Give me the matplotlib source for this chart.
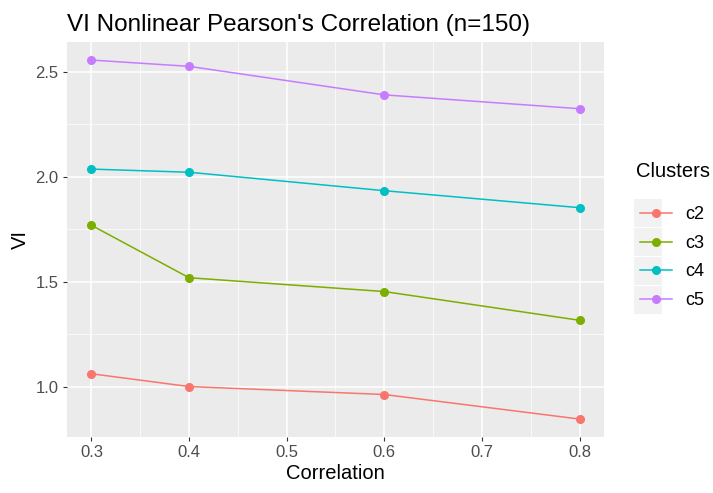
import numpy as np
import matplotlib
matplotlib.use("Agg")
import matplotlib.pyplot as plt
from matplotlib.ticker import MultipleLocator
from matplotlib.patches import Rectangle

plt.rcParams['font.family'] = ['Liberation Sans', 'DejaVu Sans']

correlation = [0.3, 0.4, 0.6, 0.8]
clusters = ['c2', 'c3', 'c4', 'c5']
vi_c2 = [1.061, 1.000, 0.962, 0.845]
vi_c3 = [1.769, 1.519, 1.453, 1.316]
vi_c4 = [2.037, 2.022, 1.934, 1.853]
vi_c5 = [2.557, 2.527, 2.391, 2.325]
colors = ['#F8766D', '#7CAE00', '#00BFC4', '#C77CFF']

W, H = 713, 493
fig = plt.figure(figsize=(W / 100, H / 100), dpi=100)
ax = fig.add_axes([0.094, 0.1136, 0.753, 0.801])
ax.set_facecolor('#EBEBEB')

for name, vals, col in zip(clusters, [vi_c2, vi_c3, vi_c4, vi_c5], colors):
    ax.plot(correlation, vals, color=col, lw=1.1, marker='o', ms=5.5, label=name)

ax.set_xlim(0.275, 0.825)
allv = vi_c2 + vi_c3 + vi_c4 + vi_c5
ymin, ymax = min(allv), max(allv)
pad = (ymax - ymin) * 0.05
ax.set_ylim(ymin - pad, ymax + pad)

ax.xaxis.set_minor_locator(MultipleLocator(0.05))
ax.yaxis.set_minor_locator(MultipleLocator(0.25))
ax.set_xticks([0.3, 0.4, 0.5, 0.6, 0.7, 0.8])
ax.set_xticklabels(['0.3', '0.4', '0.5', '0.6', '0.7', '0.8'])
ax.set_yticks([1.0, 1.5, 2.0, 2.5])
ax.set_yticklabels(['1.0', '1.5', '2.0', '2.5'])
ax.grid(which='major', color='white', lw=1.1)
ax.grid(which='minor', color='white', lw=0.5)
ax.set_axisbelow(True)
for s in ax.spines.values():
    s.set_visible(False)
ax.tick_params(which='major', length=3, color='#333333', labelsize=12, labelcolor='#4D4D4D', pad=3)
ax.tick_params(which='minor', length=0)

ax.set_xlabel('Correlation', fontsize=14.5, labelpad=3)
ax.set_ylabel('VI', fontsize=14.5, labelpad=4)
ax.set_title("VI Nonlinear Pearson's Correlation (n=150)", fontsize=17.5, loc='left', pad=8)

# legend: title, grey key boxes, entries
fig.text(636 / W, 1 - 172 / H, 'Clusters', fontsize=14.5, va='center', ha='left')
key_top, key_step = 198, 29
for i in range(len(clusters)):
    fig.patches.append(Rectangle((634 / W, 1 - (key_top + (i + 1) * key_step) / H),
                                 28 / W, (key_step - 1) / H, transform=fig.transFigure,
                                 facecolor='#F2F2F2', edgecolor='none', zorder=0))
leg = fig.legend(*ax.get_legend_handles_labels(), loc='upper left',
                 bbox_to_anchor=(634 / W, 1 - (key_top + 2) / H), frameon=False,
                 fontsize=13, handlelength=1.75, labelspacing=0.64,
                 handletextpad=0.75, borderpad=0.35, borderaxespad=0)

fig.savefig('out.png', dpi=100)
